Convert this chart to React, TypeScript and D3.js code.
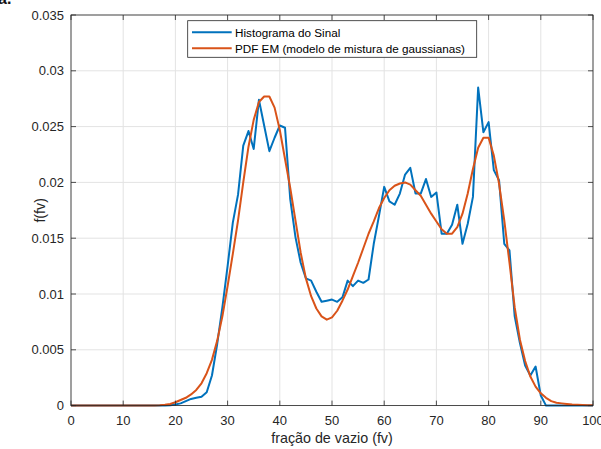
import React from "react";
import * as d3 from "d3";

// Bin centres for the void fraction (fv), 0..100
const fvBins: number[] = Array.from({ length: 101 }, (_, i) => i);

// Normalised histogram of the signal, one value per bin
const histogramValues: number[] = [
  0, 0, 0, 0, 0, 0, 0, 0, 0, 0,
  0, 0, 0, 0, 0, 0, 0, 0, 0, 0.00003,
  0.0001, 0.0002, 0.0004, 0.0006, 0.0007, 0.0008, 0.0012, 0.0027, 0.0055, 0.0088,
  0.0125, 0.0164, 0.0189, 0.0233, 0.0246, 0.0230, 0.0274, 0.0251, 0.0228, 0.0240,
  0.0251, 0.0249, 0.0185, 0.0151, 0.0128, 0.0114, 0.0112, 0.0102, 0.0093, 0.0094,
  0.0095, 0.0093, 0.0097, 0.0112, 0.0107, 0.0112, 0.0110, 0.0113, 0.0145, 0.0170,
  0.0196, 0.0183, 0.0180, 0.0190, 0.0207, 0.0213, 0.0190, 0.0190, 0.0203, 0.0187,
  0.0191, 0.0154, 0.0154, 0.0162, 0.0180, 0.0145, 0.0163, 0.0187, 0.0285, 0.0245,
  0.0254, 0.0211, 0.0202, 0.0145, 0.0139, 0.0080, 0.0056, 0.0036, 0.0027, 0.0035,
  0.0009, 0, 0, 0, 0, 0, 0, 0, 0, 0,
  0,
];

// Gaussian-mixture PDF estimated by EM, sampled on the same bins
const pdfEmValues: number[] = [
  0, 0, 0, 0, 0, 0, 0, 0, 0, 0,
  0, 0, 0, 0, 0, 0.00001, 0.00002, 0.00004, 0.00008, 0.00015,
  0.0003, 0.0005, 0.0007, 0.0010, 0.0014, 0.0020, 0.0029, 0.0041, 0.0058, 0.0080,
  0.0107, 0.0136, 0.0166, 0.0200, 0.0232, 0.0256, 0.0272, 0.0277, 0.0277, 0.0267,
  0.0247, 0.0221, 0.0195, 0.0166, 0.0137, 0.0114, 0.0098, 0.0087, 0.0080, 0.0077,
  0.0079, 0.0085, 0.0094, 0.0104, 0.0116, 0.0128, 0.0141, 0.0154, 0.0165, 0.0177,
  0.0186, 0.0193, 0.0197, 0.0199, 0.0200, 0.0198, 0.0193, 0.0188, 0.0180, 0.0172,
  0.0165, 0.0158, 0.0154, 0.0154, 0.0160, 0.0172, 0.0190, 0.0212, 0.0231, 0.0240,
  0.0240, 0.0224, 0.0199, 0.0166, 0.0128, 0.0088, 0.0059, 0.0040, 0.0026, 0.0017,
  0.0011, 0.0007, 0.0004, 0.00026, 0.0002, 0.00015, 0.0001, 0.00008, 0.00006, 0.00004,
  0.00003,
];

const xTicks: number[] = [0, 10, 20, 30, 40, 50, 60, 70, 80, 90, 100];
const yTicks: number[] = [0, 0.005, 0.01, 0.015, 0.02, 0.025, 0.03, 0.035];
const yTickLabels: string[] = ["0", "0.005", "0.01", "0.015", "0.02", "0.025", "0.03", "0.035"];

const seriesNames: string[] = [
  "Histograma do Sinal",
  "PDF EM (modelo de mistura de gaussianas)",
];
const seriesColors: string[] = ["#0072BD", "#D95319"];

const W = 601;
const H = 449;
const left = 71;
const right = 593;
const top = 15;
const bottom = 405.6;
const font = "'Liberation Sans', Arial, Helvetica, sans-serif";
const axisColor = "#262626";
const gridColor = "#e3e3e3";

export default function App() {
  const x = d3.scaleLinear().domain([0, 100]).range([left, right]);
  const y = d3.scaleLinear().domain([0, 0.035]).range([bottom, top]);

  const line = d3
    .line<[number, number]>()
    .x((d) => x(d[0]))
    .y((d) => y(d[1]));

  const histPts: [number, number][] = fvBins.map((v, i) => [v, histogramValues[i]]);
  const pdfPts: [number, number][] = fvBins.map((v, i) => [v, pdfEmValues[i]]);

  const tickLen = 5;

  return (
    <svg
      width={W}
      height={H}
      style={{ position: "absolute", left: 0, top: 0, background: "#fff" }}
      fontFamily={font}
    >
      <rect x={0} y={0} width={W} height={H} fill="#fff" />
      <text x={-2} y={4} fontSize={16} fontWeight="bold" fill="#111">
        a.
      </text>

      {/* grid */}
      {xTicks.map((t) => (
        <line key={"gx" + t} x1={x(t)} x2={x(t)} y1={top} y2={bottom} stroke={gridColor} strokeWidth={1} />
      ))}
      {yTicks.map((t) => (
        <line key={"gy" + t} x1={left} x2={right} y1={y(t)} y2={y(t)} stroke={gridColor} strokeWidth={1} />
      ))}

      {/* data */}
      <path d={line(histPts) ?? ""} fill="none" stroke={seriesColors[0]} strokeWidth={2} strokeLinejoin="round" />
      <path d={line(pdfPts) ?? ""} fill="none" stroke={seriesColors[1]} strokeWidth={2} strokeLinejoin="round" />

      {/* axes box */}
      <rect x={left} y={top} width={right - left} height={bottom - top} fill="none" stroke={axisColor} strokeWidth={0.8} />
      {xTicks.map((t) => (
        <g key={"tx" + t}>
          <line x1={x(t)} x2={x(t)} y1={bottom} y2={bottom - tickLen} stroke={axisColor} strokeWidth={0.8} />
          <line x1={x(t)} x2={x(t)} y1={top} y2={top + tickLen} stroke={axisColor} strokeWidth={0.8} />
          <text x={x(t)} y={bottom + 19} textAnchor="middle" fontSize={13} fill={axisColor}>
            {t}
          </text>
        </g>
      ))}
      {yTicks.map((t, i) => (
        <g key={"ty" + t}>
          <line x1={left} x2={left + tickLen} y1={y(t)} y2={y(t)} stroke={axisColor} strokeWidth={0.8} />
          <line x1={right} x2={right - tickLen} y1={y(t)} y2={y(t)} stroke={axisColor} strokeWidth={0.8} />
          <text x={left - 7} y={y(t) + 4.6} textAnchor="end" fontSize={13} fill={axisColor}>
            {yTickLabels[i]}
          </text>
        </g>
      ))}

      <text x={(left + right) / 2} y={443} textAnchor="middle" fontSize={14.3} fill={axisColor}>
        fração de vazio (fv)
      </text>
      <text
        transform={`translate(45, ${(top + bottom) / 2}) rotate(-90)`}
        textAnchor="middle"
        fontSize={14.3}
        fill={axisColor}
      >
        f(fv)
      </text>

      {/* legend */}
      <g>
        <rect x={187.7} y={20.7} width={289} height={36.6} fill="#fff" stroke={axisColor} strokeWidth={0.8} />
        {seriesNames.map((name, i) => (
          <g key={name}>
            <line x1={192} x2={231.7} y1={32.3 + i * 16} y2={32.3 + i * 16} stroke={seriesColors[i]} strokeWidth={2} />
            <text x={235} y={32.3 + i * 16 + 4.2} fontSize={11.7} fill="#000">
              {name}
            </text>
          </g>
        ))}
      </g>
    </svg>
  );
}
